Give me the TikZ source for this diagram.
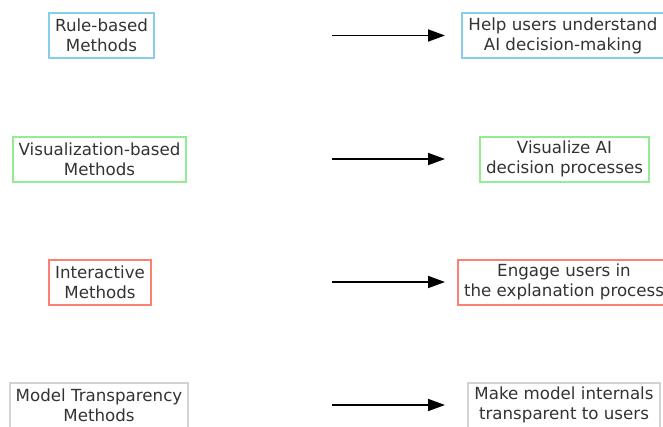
\documentclass[tikz,border=0pt]{standalone}
\usepackage{fontspec}
\setmainfont{DejaVu Sans}
\usepackage{xcolor}
\usetikzlibrary{arrows.meta, calc}

\definecolor{skyblue}{RGB}{135,206,235}
\definecolor{lightgreen}{RGB}{144,238,144}
\definecolor{salmon}{RGB}{250,128,114}
\definecolor{lightgray}{RGB}{211,211,211}

\begin{document}
\begin{tikzpicture}[x=1pt, y=-1pt, >={Triangle[length=17pt, width=12pt]},
  every node/.style={font=\fontsize{16.67}{20}\selectfont, text=black!80},
  box/.style={draw, line width=2pt, align=center, inner xsep=6pt, minimum height=45pt, fill=white},
  link/.style={->, line width=1.8pt}]
  \clip (0,0) rectangle (663,426);
  \useasboundingbox (0,0) rectangle (663,426);
  % method column
  \node[box, draw=skyblue] (ruleBased) at (101.5,35.5) {Rule-based\\Methods};
  \node[box, draw=lightgreen] (visBased) at (99.5,159) {Visualization-based\\Methods};
  \node[box, draw=salmon] (interactive) at (100,282) {Interactive\\Methods};
  \node[box, draw=lightgray] (transparency) at (99,405) {Model Transparency\\Methods};
  % goal column
  \node[box, draw=skyblue] (understand) at (563,35.5) {Help users understand\\AI decision-making};
  \node[box, draw=lightgreen] (visualize) at (564.5,159) {Visualize AI\\decision processes};
  \node[box, draw=salmon] (engage) at (564,282) {Engage users in\\the explanation process};
  \node[box, draw=lightgray] (internals) at (564,405) {Make model internals\\transparent to users};
  % arrows
  \foreach \row/\y in {1/35.5, 2/159, 3/282, 4/405} {
    \coordinate (from\row) at (332,\y);
    \coordinate (to\row) at (445,\y);
    \draw[link] (from\row) -- (to\row);
  }
\end{tikzpicture}
\end{document}
